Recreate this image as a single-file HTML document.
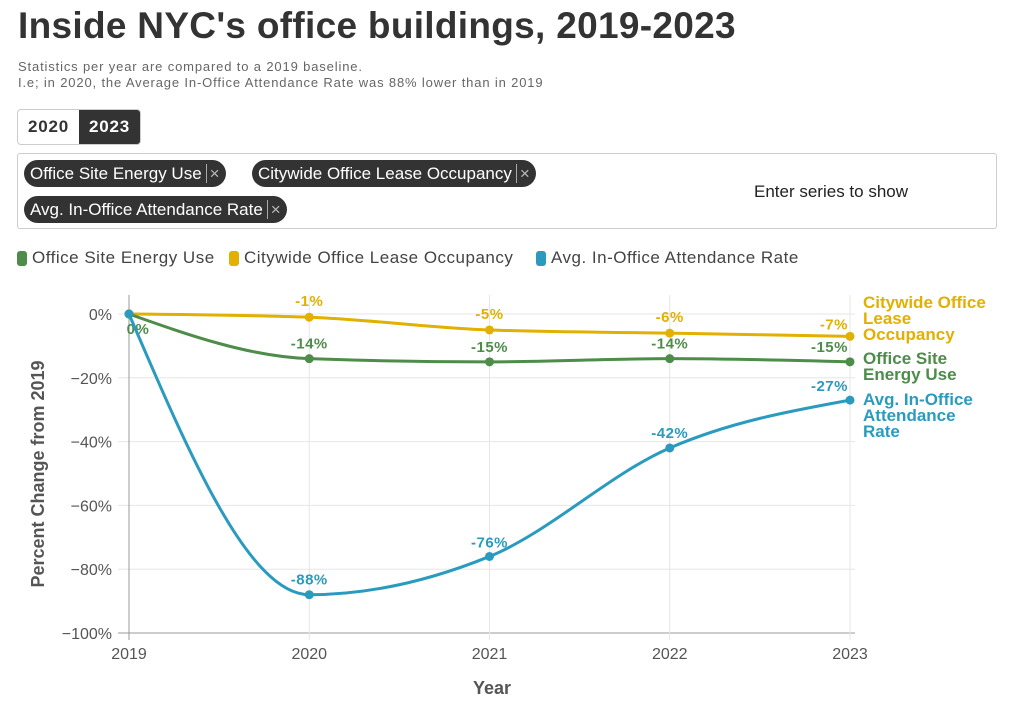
<!DOCTYPE html>
<html><head><meta charset="utf-8">
<style>
body{margin:0;width:1028px;height:722px;background:#fff;font-family:"Liberation Sans",sans-serif;color:#333;position:relative;overflow:hidden}
h1{position:absolute;left:18px;top:5px;margin:0;font-size:37px;font-weight:bold;color:#333;letter-spacing:0.3px}
.sub{position:absolute;left:18px;font-size:13px;color:#666;letter-spacing:0.85px}
.tabs{position:absolute;left:17px;top:109px;height:34px;border:1px solid #ccc;border-radius:4px;display:flex;overflow:hidden}
.tabs div{padding:0 10px;line-height:34px;font-weight:bold;font-size:17px;letter-spacing:0.8px}
.sel{position:absolute;left:17px;top:153px;width:978px;height:74px;border:1px solid #ccc;border-radius:3px}
.chip{position:absolute;height:27px;line-height:27px;background:#333;color:#fff;border-radius:14px;padding:0 6px;font-size:17px;white-space:nowrap}
.chip span{color:#bbb;margin-left:4px;border-left:1px solid #aaa;padding-left:3px}
.leg{position:absolute;top:248px;font-size:17px;color:#444;display:flex;align-items:center;letter-spacing:0.5px}
.leg i{display:inline-block;width:10px;height:15px;border-radius:3px;margin-right:5px}
</style></head><body>
<h1>Inside NYC's office buildings, 2019-2023</h1>
<div class="sub" style="top:59px">Statistics per year are compared to a 2019 baseline.</div>
<div class="sub" style="top:75px">I.e; in 2020, the Average In-Office Attendance Rate was 88% lower than in 2019</div>
<div class="tabs">
<div>2020</div>
<div style="background:#333;color:#fff">2023</div>
</div>
<div class="sel">
<div class="chip" style="left:6px;top:6px">Office Site Energy Use<span>×</span></div>
<div class="chip" style="left:234px;top:6px">Citywide Office Lease Occupancy<span>×</span></div>
<div class="chip" style="left:6px;top:42px">Avg. In-Office Attendance Rate<span>×</span></div>
<div style="position:absolute;left:736px;top:28px;font-size:17px;color:#222">Enter series to show</div>
</div>
<div class="leg" style="left:17px"><i style="background:#4e8c4a"></i>Office Site Energy Use</div>
<div class="leg" style="left:229px"><i style="background:#e1b000"></i>Citywide Office Lease Occupancy</div>
<div class="leg" style="left:536px"><i style="background:#2a9bbf"></i>Avg. In-Office Attendance Rate</div>
<svg id="chart" width="1028" height="722" style="position:absolute;left:0;top:0"></svg>
<script>
const years=[2019,2020,2021,2022,2023];
const energy=[0,-14,-15,-14,-15];
const occupancy=[0,-1,-5,-6,-7];
const attendance=[0,-88,-76,-42,-27];
const yTicks=[0,-20,-40,-60,-80,-100];
const svg=document.getElementById('chart');
const NS='http://www.w3.org/2000/svg';
const x=v=>129+(v-2019)*180.25;
const y=v=>314-v*3.19;
function el(t,a,p){const e=document.createElementNS(NS,t);for(const k in a)e.setAttribute(k,a[k]);(p||svg).appendChild(e);return e;}
yTicks.forEach(t=>{
 const g=el('line',{x1:118,x2:855,y1:y(t),y2:y(t),stroke:t===-100?'#999':'#e6e6e6','stroke-width':1});
 
 
 const tx=el('text',{x:112,y:y(t)+6,'text-anchor':'end','font-size':16,fill:'#555'});
 tx.textContent=(t<0?'−':'')+Math.abs(t)+'%';
 
 
});
years.forEach(yr=>{
 const g=el('line',{x1:x(yr),x2:x(yr),y1:295,y2:640,stroke:yr===2019?'#999':'#e6e6e6','stroke-width':1});
 
 
 const tx=el('text',{x:x(yr),y:659,'text-anchor':'middle','font-size':16,fill:'#555'});
 tx.textContent=yr;
 
 
});
const xt=el('text',{x:492,y:694,'text-anchor':'middle','font-size':18,'font-weight':'bold',fill:'#555'});
xt.textContent='Year';


const yt=el('text',{x:0,y:0,transform:'translate(44,474) rotate(-90)','text-anchor':'middle','font-size':18,'font-weight':'bold',fill:'#555'});
yt.textContent='Percent Change from 2019';


function monotone(pts){
 const n=pts.length,d=[],m=[];
 for(let i=0;i<n-1;i++)d.push((pts[i+1][1]-pts[i][1])/(pts[i+1][0]-pts[i][0]));
 for(let i=1;i<n-1;i++){
  const a=d[i-1],b=d[i];
  if(a*b<=0)m[i]=0;else{const h0=pts[i][0]-pts[i-1][0],h1=pts[i+1][0]-pts[i][0];const p=(a*h1+b*h0)/(h0+h1);m[i]=(Math.sign(a)+Math.sign(b))*Math.min(Math.abs(a),Math.abs(b),0.5*Math.abs(p));}
 }
 m[0]=(3*d[0]-m[1])/2; m[n-1]=(3*d[n-2]-m[n-2])/2;
 let s='M'+pts[0][0]+','+pts[0][1];
 for(let i=0;i<n-1;i++){const h=(pts[i+1][0]-pts[i][0])/3;
  s+=' C'+(pts[i][0]+h)+','+(pts[i][1]+m[i]*h)+' '+(pts[i+1][0]-h)+','+(pts[i+1][1]-m[i+1]*h)+' '+pts[i+1][0]+','+pts[i+1][1];}
 return s;
}
const series=[
 {name:'occupancy',vals:occupancy,color:'#e1b000',label:['Citywide Office','Lease','Occupancy'],ly:308,off:[-11,-11,-11,-11,-7]},
 {name:'energy',vals:energy,color:'#4e8c4a',label:['Office Site','Energy Use'],ly:364,off:[20,-10,-10,-10,-10]},
 {name:'attendance',vals:attendance,color:'#2a9bbf',label:['Avg. In-Office','Attendance','Rate'],ly:405,off:[0,-10,-9,-10,-9]}
];
series.forEach(s=>{
 const pts=years.map((yr,i)=>[x(yr),y(s.vals[i])]);
 const p=el('path',{d:monotone(pts),fill:'none',stroke:s.color,'stroke-width':3});
 
 
 years.forEach((yr,i)=>{
  const c=el('circle',{cx:x(yr),cy:y(s.vals[i]),r:4.5,fill:s.color});
  
  
  if(i===0&&s.name!=='energy')return;
  const anchor=i===4?'end':'middle';
  const t=el('text',{x:x(yr)+(i===4?-2:(i===0?9:0)),y:y(s.vals[i])+s.off[i],'text-anchor':anchor,'font-size':15,'font-weight':'bold',fill:s.color,'letter-spacing':'0.5'});
  t.textContent=s.vals[i]+'%';
  
  
 });
 s.label.forEach((ln,k)=>{
  const t=el('text',{x:863,y:s.ly+k*16,'font-size':17,'font-weight':'bold',fill:s.color});
  t.textContent=ln;
  
  
 });
});
</script>
</body></html>
